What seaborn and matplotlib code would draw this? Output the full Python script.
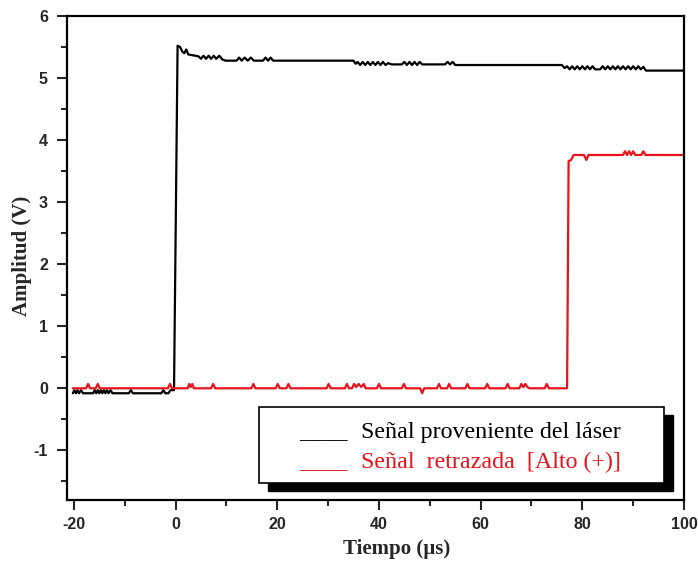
import matplotlib
matplotlib.use("Agg")
import matplotlib.pyplot as plt
import seaborn as sns
import pandas as pd
from matplotlib.patches import Rectangle
from matplotlib.ticker import MultipleLocator

# ---------------- data ----------------
laser_t = [-20.2, -19.9, -19.6, -19.3, -19.0, -18.6, -18.2, -16.2, -15.9, -15.6,
           -15.3, -15.0, -14.7, -14.4, -14.1, -13.8, -13.5, -13.2, -12.8, -12.4,
           -9.2, -8.8, -8.4, -2.8, -2.4, -2.0, -1.4, -1.0, -0.3, 0.4,
           0.9, 1.3, 1.7, 2.1, 2.5, 3.2, 4.5, 5.0, 5.5, 6.0,
           6.5, 7.0, 7.5, 8.0, 8.6, 9.2, 9.8, 12.0, 12.5, 13.0,
           13.6, 14.2, 14.8, 15.4, 17.2, 17.7, 18.2, 18.7, 19.2, 35.0,
           35.4, 35.8, 36.3, 36.8, 37.3, 37.8, 38.3, 38.8, 39.3, 39.8,
           40.3, 40.8, 41.3, 41.8, 42.5, 44.5, 45.0, 45.5, 46.0, 46.5,
           47.0, 47.5, 48.0, 48.5, 53.0, 53.5, 54.0, 54.5, 55.0, 76.0,
           76.5, 77.0, 77.5, 78.0, 78.5, 79.0, 79.5, 80.0, 80.5, 81.0,
           81.5, 82.0, 82.5, 83.5, 84.0, 84.5, 85.0, 85.5, 86.0, 86.5,
           87.0, 87.5, 88.0, 88.5, 89.0, 89.5, 90.0, 90.5, 91.0, 91.5,
           92.0, 92.5, 100.0]
laser_v = [-0.08, -0.03, -0.08, -0.03, -0.08, -0.03, -0.08, -0.08, -0.03, -0.08,
           -0.03, -0.08, -0.03, -0.08, -0.03, -0.08, -0.03, -0.08, -0.03, -0.08,
           -0.08, -0.03, -0.08, -0.08, -0.03, -0.08, -0.08, -0.03, -0.03, 5.52,
           5.50, 5.43, 5.40, 5.46, 5.38, 5.37, 5.35, 5.31, 5.36, 5.31,
           5.36, 5.31, 5.36, 5.31, 5.36, 5.30, 5.28, 5.28, 5.33, 5.28,
           5.33, 5.28, 5.33, 5.28, 5.28, 5.33, 5.28, 5.33, 5.28, 5.28,
           5.23, 5.26, 5.21, 5.26, 5.21, 5.26, 5.21, 5.26, 5.21, 5.26,
           5.21, 5.26, 5.21, 5.24, 5.22, 5.22, 5.26, 5.21, 5.26, 5.21,
           5.26, 5.21, 5.26, 5.22, 5.22, 5.26, 5.22, 5.26, 5.21, 5.21,
           5.16, 5.19, 5.14, 5.19, 5.14, 5.19, 5.14, 5.19, 5.14, 5.19,
           5.14, 5.19, 5.14, 5.14, 5.19, 5.14, 5.19, 5.14, 5.19, 5.14,
           5.19, 5.14, 5.19, 5.14, 5.19, 5.14, 5.19, 5.14, 5.19, 5.14,
           5.18, 5.12, 5.12]

delay_t = [-20.2, -17.6, -17.2, -16.8, -15.7, -15.3, -14.9, -1.5, -1.1, -0.7,
           2.4, 2.7, 3.0, 3.3, 3.6, 7.0, 7.4, 7.8, 14.9, 15.3,
           15.7, 19.7, 20.1, 20.5, 21.8, 22.2, 22.6, 29.7, 30.1, 30.5,
           33.3, 33.7, 34.1, 34.7, 35.1, 35.5, 36.0, 36.5, 37.0, 37.4,
           39.6, 40.0, 40.4, 44.5, 44.9, 45.3, 48.1, 48.5, 48.9, 51.4,
           51.8, 52.2, 53.4, 53.8, 54.2, 57.0, 57.4, 57.8, 60.9, 61.3,
           61.7, 64.9, 65.3, 65.7, 67.6, 68.0, 68.4, 68.8, 69.2, 69.6,
           72.6, 73.0, 73.4, 77.0, 77.3, 77.8, 78.3, 80.3, 80.8, 81.2,
           88.0, 88.4, 88.8, 89.2, 89.6, 90.0, 90.4, 91.6, 92.0, 92.4,
           100.0]
delay_v = [0.0, 0.0, 0.07, 0.0, 0.0, 0.07, 0.0, 0.0, 0.07, 0.0,
           0.0, 0.07, 0.02, 0.07, 0.0, 0.0, 0.07, 0.0, 0.0, 0.07,
           0.0, 0.0, 0.07, 0.0, 0.0, 0.07, 0.0, 0.0, 0.07, 0.0,
           0.0, 0.07, 0.0, 0.0, 0.07, 0.02, 0.07, 0.02, 0.07, 0.0,
           0.0, 0.07, 0.0, 0.0, 0.07, 0.0, 0.0, -0.08, 0.0, 0.0,
           0.07, 0.0, 0.0, 0.07, 0.0, 0.0, 0.07, 0.0, 0.0, 0.07,
           0.0, 0.0, 0.07, 0.0, 0.0, 0.07, 0.02, 0.07, 0.02, 0.0,
           0.0, 0.07, 0.0, 0.0, 3.66, 3.68, 3.76, 3.76, 3.68, 3.76,
           3.76, 3.82, 3.76, 3.82, 3.76, 3.82, 3.76, 3.76, 3.82, 3.76,
           3.76]

series_labels = ["Señal proveniente del láser", "Señal  retrazada  [Alto (+)]"]
series_colors = ["#000000", "#e8141c"]
x_ticks = [-20, 0, 20, 40, 60, 80, 100]
y_ticks = [-1, 0, 1, 2, 3, 4, 5, 6]

df_laser = pd.DataFrame({"t": laser_t, "v": laser_v})
df_delay = pd.DataFrame({"t": delay_t, "v": delay_v})

# ---------------- figure ----------------
sns.set_style("ticks")
plt.rcParams["font.family"] = ["Liberation Sans", "DejaVu Sans"]
plt.rcParams["axes.unicode_minus"] = False

fig = plt.figure(figsize=(6.98, 5.67), dpi=100)
ax = fig.add_axes([0.0956, 0.1182, 0.8844, 0.8536])

sns.lineplot(data=df_laser, x="t", y="v", ax=ax, color=series_colors[0],
             linewidth=1.6, sort=False, estimator=None)
sns.lineplot(data=df_delay, x="t", y="v", ax=ax, color=series_colors[1],
             linewidth=1.6, sort=False, estimator=None)

ax.set_xlim(-21.4, 100)
ax.set_ylim(-1.8, 6)
ax.set_xticks(x_ticks)
ax.set_yticks(y_ticks)
ax.xaxis.set_minor_locator(MultipleLocator(10))
ax.yaxis.set_minor_locator(MultipleLocator(0.5))
for s in ax.spines.values():
    s.set_visible(True)
    s.set_linewidth(1.6)
    s.set_color("black")
ax.tick_params(which="major", direction="out", length=7.5, width=1.5,
               labelsize=11.5, top=False, right=False)
ax.tick_params(axis="y", which="major", pad=6)
ax.tick_params(axis="x", which="major", pad=5)
ax.tick_params(which="minor", direction="out", length=4.2, width=1.5,
               top=False, right=False)
for lab in ax.get_xticklabels() + ax.get_yticklabels():
    lab.set_fontweight("bold")

serif = ["Liberation Serif", "DejaVu Serif"]
ax.set_xlabel("Tiempo (µs)", family=serif, fontweight="bold", fontsize=15,
              va="center", ha="center")
ax.xaxis.set_label_coords(0.535, -0.101)
ax.set_ylabel("Amplitud (V)", family=serif, fontweight="bold", fontsize=15,
              va="center", ha="center")
ax.yaxis.set_label_coords(-0.0732, 0.504)

# legend box with shadow
bx0, bx1 = 0.3115, 0.968
by0, by1 = 0.035, 0.192
dx, dy = 8.5 / 617.3, 8 / 484
ax.add_patch(Rectangle((bx0 + dx, by0 - dy), bx1 - bx0, by1 - by0,
                       transform=ax.transAxes, facecolor="black",
                       edgecolor="black", zorder=5, clip_on=False))
ax.add_patch(Rectangle((bx0, by0), bx1 - bx0, by1 - by0,
                       transform=ax.transAxes, facecolor="white",
                       edgecolor="black", linewidth=1.2, zorder=6, clip_on=False))
rows_y = [0.128, 0.066]
for lbl, col, yy in zip(series_labels, series_colors, rows_y):
    ax.text(0.376, yy, "____", transform=ax.transAxes, color=col,
            family=serif, fontsize=17.3, va="baseline", ha="left", zorder=7)
    ax.text(0.477, yy, lbl, transform=ax.transAxes, color=col,
            family=serif, fontsize=17.3, va="baseline", ha="left", zorder=7)

fig.savefig("out.png", dpi=100)
